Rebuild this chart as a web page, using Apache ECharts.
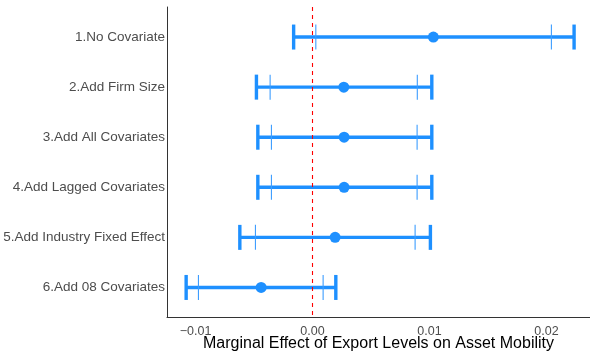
<!DOCTYPE html>
<html>
<head>
<meta charset="utf-8">
<script src="https://cdn.jsdelivr.net/npm/echarts@6/dist/echarts.min.js"></script>
<style>
  html, body { margin: 0; padding: 0; background: #fff; }
  #chart { width: 590px; height: 354px; }
</style>
</head>
<body>
<div id="chart"></div>
<script>
// Model specifications, top to bottom
const models = [
  '1.No Covariate',
  '2.Add Firm Size',
  '3.Add All Covariates',
  '4.Add Lagged Covariates',
  '5.Add Industry Fixed Effect',
  '6.Add 08 Covariates'
];
// Point estimates
const estimate = [0.01033, 0.002675, 0.002701, 0.002701, 0.001932, -0.004393];
// 95% confidence bounds
const lower95 = [-0.001615, -0.004795, -0.004675, -0.004675, -0.006214, -0.010803];
const upper95 = [0.02236, 0.010197, 0.010197, 0.010197, 0.010077, 0.001991];
// 90% confidence bounds
const lower90 = [0.000282, -0.003624, -0.003513, -0.003513, -0.00488, -0.009752];
const upper90 = [0.02042, 0.008957, 0.00894, 0.00894, 0.008769, 0.000906];
// Tick labels on the effect axis
const xTicks = [-0.01, 0.00, 0.01, 0.02];

const blue = '#1E90FF';
const font = 'Liberation Sans, Arial, Helvetica, sans-serif';

const intervalData = models.map((m, i) => [lower95[i], upper95[i], lower90[i], upper90[i], i]);
const pointData = models.map((m, i) => [estimate[i], i]);

function renderInterval(params, api) {
  const row = api.value(4);
  const a = api.coord([api.value(0), row]);
  const b = api.coord([api.value(1), row]);
  const c = api.coord([api.value(2), row]);
  const d = api.coord([api.value(3), row]);
  const half = 12.5;
  const thick = { stroke: blue, lineWidth: 3.4 };
  const thin = { stroke: '#3d9dff', lineWidth: 1.1 };
  return {
    type: 'group',
    children: [
      { type: 'line', shape: { x1: a[0], y1: a[1], x2: b[0], y2: b[1] }, style: thick },
      { type: 'line', shape: { x1: a[0], y1: a[1] - half, x2: a[0], y2: a[1] + half }, style: thick },
      { type: 'line', shape: { x1: b[0], y1: b[1] - half, x2: b[0], y2: b[1] + half }, style: thick },
      { type: 'line', shape: { x1: c[0], y1: c[1] - half, x2: c[0], y2: c[1] + half }, style: thin },
      { type: 'line', shape: { x1: d[0], y1: d[1] - half, x2: d[0], y2: d[1] + half }, style: thin }
    ]
  };
}

const chart = echarts.init(document.getElementById('chart'), null, { renderer: 'canvas' });
chart.setOption({
  animation: false,
  backgroundColor: '#fff',
  textStyle: { fontFamily: font },
  grid: { left: 167, right: 0, top: 7, bottom: 36.5, containLabel: false, outerBoundsMode: 'none' },
  xAxis: {
    type: 'value',
    min: -0.01244,
    max: 0.02372,
    axisLine: { show: true, onZero: false, lineStyle: { color: '#333', width: 1 } },
    axisTick: { show: false },
    splitLine: { show: false },
    axisLabel: {
      customValues: xTicks,
      formatter: v => v.toFixed(2).replace('-', '\u2212'),
      color: '#4d4d4d',
      fontSize: 12.5,
      fontFamily: font,
      margin: 8
    },
    name: 'Marginal Effect of Export Levels on Asset Mobility',
    nameLocation: 'middle',
    nameGap: 18,
    nameMoveOverlap: false,
    nameTextStyle: { color: '#000', fontSize: 16, fontFamily: font }
  },
  yAxis: {
    type: 'value',
    min: -0.6,
    max: 5.6,
    inverse: true,
    axisLine: { show: true, onZero: false, lineStyle: { color: '#333', width: 1 } },
    axisTick: { show: false },
    splitLine: { show: false },
    axisLabel: {
      customValues: [0, 1, 2, 3, 4, 5],
      formatter: v => models[Math.round(v)],
      color: '#4d4d4d',
      fontSize: 13.5,
      fontFamily: font,
      margin: 2
    }
  },
  series: [
    {
      type: 'custom',
      renderItem: renderInterval,
      data: intervalData,
      encode: { x: [0, 1, 2, 3], y: 4 },
      silent: true,
      z: 2
    },
    {
      type: 'scatter',
      data: pointData,
      symbol: 'circle',
      symbolSize: 11,
      itemStyle: { color: blue, opacity: 1 },
      silent: true,
      z: 3
    },
    {
      type: 'line',
      data: [],
      silent: true,
      z: 5,
      markLine: {
        silent: true,
        symbol: ['none', 'none'],
        label: { show: false },
        lineStyle: { color: '#ff0000', type: [4, 4], width: 1.1 },
        data: [{ xAxis: 0 }]
      }
    }
  ]
});
</script>
</body>
</html>
